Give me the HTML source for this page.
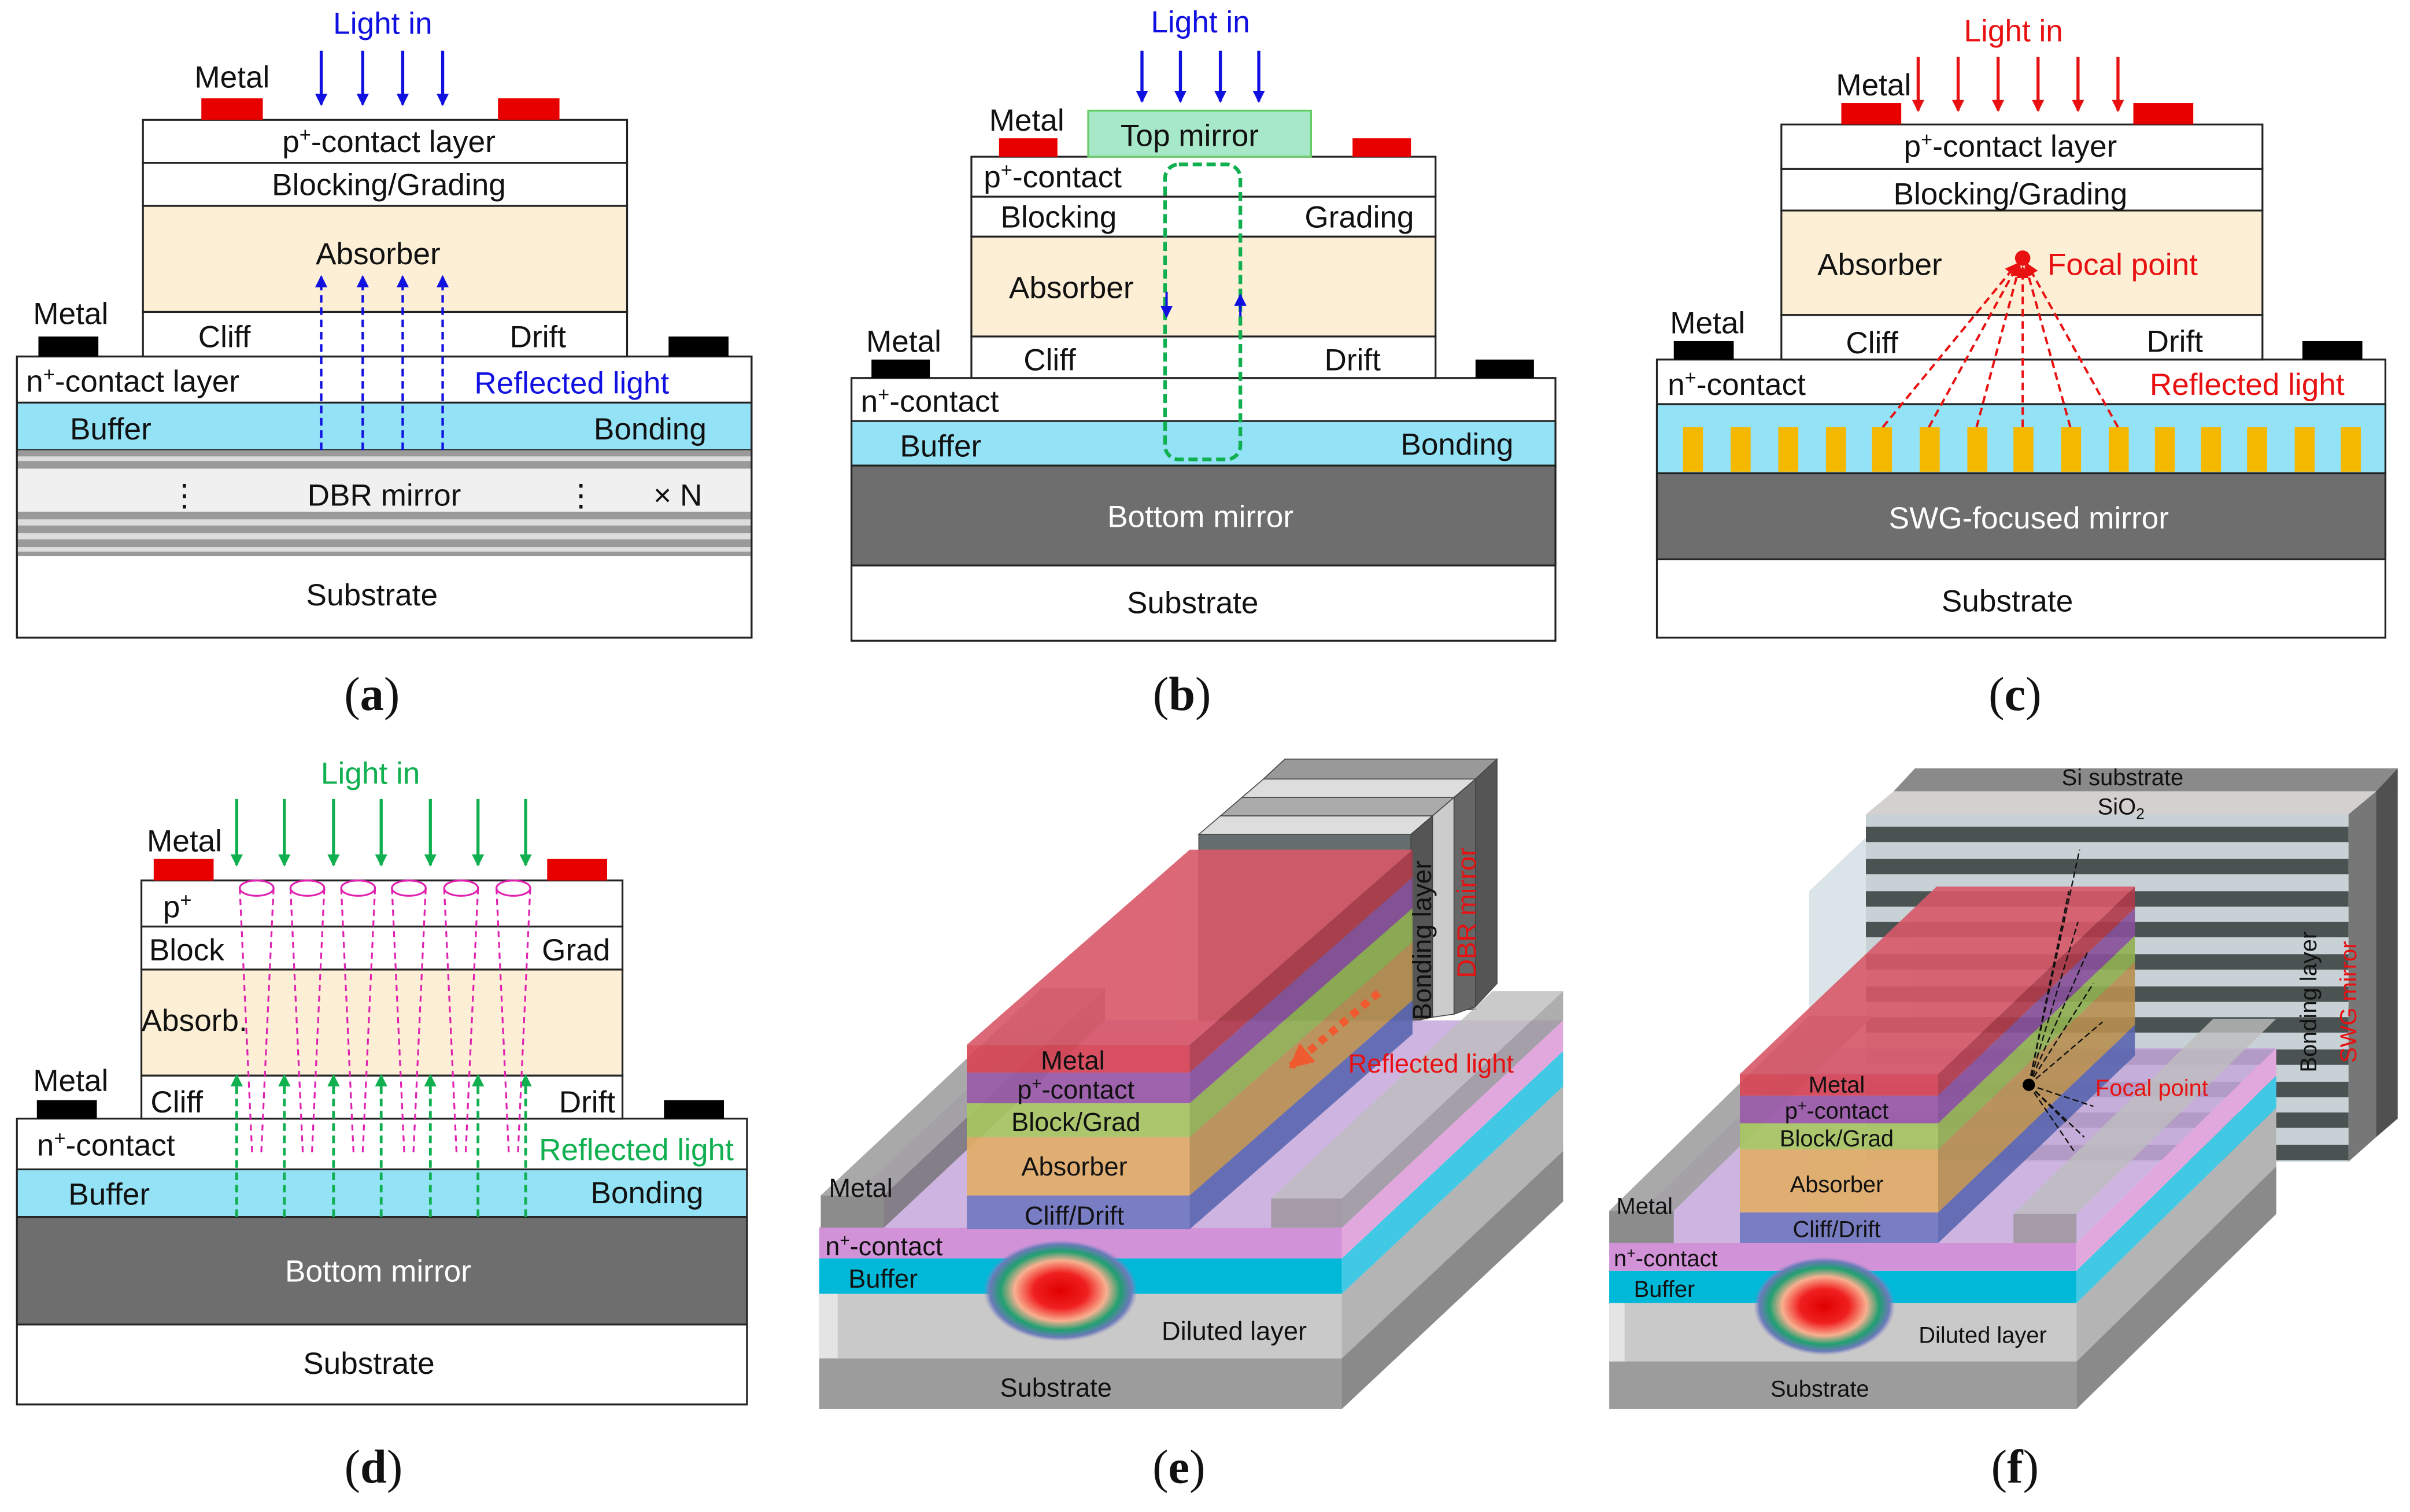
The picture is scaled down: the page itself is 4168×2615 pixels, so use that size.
<!DOCTYPE html>
<html><head><meta charset="utf-8"><style>
html,body{margin:0;padding:0;background:#fff;}
svg{display:block;}
text{font-family:"Liberation Sans",Arial,sans-serif;}
</style></head><body>
<svg width="4168" height="2615" viewBox="0 0 1568 984" preserveAspectRatio="none" xmlns="http://www.w3.org/2000/svg">
<defs>
<marker id="ab" markerWidth="8" markerHeight="8" refX="7" refY="4" orient="auto" markerUnits="userSpaceOnUse"><path d="M0,0 L8,4 L0,8 z" fill="#1010e0"/></marker>
<marker id="ar" markerWidth="8" markerHeight="8" refX="7" refY="4" orient="auto" markerUnits="userSpaceOnUse"><path d="M0,0 L8,4 L0,8 z" fill="#e81010"/></marker>
<marker id="ag" markerWidth="8" markerHeight="8" refX="7" refY="4" orient="auto" markerUnits="userSpaceOnUse"><path d="M0,0 L8,4 L0,8 z" fill="#10b050"/></marker>
<marker id="ao" markerWidth="16" markerHeight="16" refX="14" refY="8" orient="auto" markerUnits="userSpaceOnUse"><path d="M0,0 L16,8 L0,16 z" fill="#f05a30"/></marker>
<radialGradient id="mode"><stop offset="0" stop-color="#e00000"/><stop offset="0.35" stop-color="#f02020"/><stop offset="0.6" stop-color="#f8b090"/><stop offset="0.78" stop-color="#20a070"/><stop offset="0.92" stop-color="#6a7ab8"/><stop offset="1" stop-color="#8a8ac8" stop-opacity="0"/></radialGradient>
</defs>
<g stroke="#222" stroke-width="1.2">
<!-- (a) -->
<rect x="11" y="232" width="478" height="183" fill="#fff"/>
<rect x="11" y="262" width="478" height="31" fill="#94e2f6"/>
<rect x="11" y="293" width="478" height="12" fill="#9a9a9a" stroke="none"/>
<rect x="11" y="297" width="478" height="3" fill="#ddd" stroke="none"/>
<rect x="11" y="305" width="478" height="28" fill="#f0f0f0" stroke="none"/>
<rect x="11" y="333" width="478" height="29" fill="#9a9a9a" stroke="none"/>
<rect x="11" y="338" width="478" height="4" fill="#ddd" stroke="none"/>
<rect x="11" y="347" width="478" height="4" fill="#ddd" stroke="none"/>
<rect x="11" y="356" width="478" height="3" fill="#ddd" stroke="none"/>
<rect x="11" y="232" width="478" height="183" fill="none"/>
<rect x="93" y="78" width="315" height="28" fill="#fff"/>
<rect x="93" y="106" width="315" height="28" fill="#fff"/>
<rect x="93" y="134" width="315" height="69" fill="#fcefd6"/>
<rect x="93" y="203" width="315" height="29" fill="#fff"/>
<rect x="131" y="64" width="40" height="14" fill="#e80000" stroke="none"/>
<rect x="324" y="64" width="40" height="14" fill="#e80000" stroke="none"/>
<rect x="25" y="219" width="39" height="13" fill="#000" stroke="none"/>
<rect x="435" y="219" width="39" height="13" fill="#000" stroke="none"/>
<!-- (b) -->
<rect x="554" y="246" width="458" height="171" fill="#fff"/>
<rect x="554" y="274" width="458" height="29" fill="#94e2f6"/>
<rect x="554" y="303" width="458" height="65" fill="#6e6e6e"/>
<rect x="632" y="102" width="302" height="26" fill="#fff"/>
<rect x="632" y="128" width="302" height="26" fill="#fff"/>
<rect x="632" y="154" width="302" height="65" fill="#fcefd6"/>
<rect x="632" y="219" width="302" height="27" fill="#fff"/>
<rect x="708" y="72" width="145" height="30" fill="#a6e8c8" stroke="#6c6"/>
<rect x="650" y="90" width="38" height="12" fill="#e80000" stroke="none"/>
<rect x="880" y="90" width="38" height="12" fill="#e80000" stroke="none"/>
<rect x="567" y="234" width="38" height="12" fill="#000" stroke="none"/>
<rect x="960" y="234" width="38" height="12" fill="#000" stroke="none"/>
<!-- (c) -->
<rect x="1078" y="234" width="474" height="181" fill="#fff"/>
<rect x="1078" y="263" width="474" height="45" fill="#94e2f6"/>
<rect x="1078" y="308" width="474" height="56" fill="#6e6e6e"/>
<rect x="1159" y="81" width="313" height="29" fill="#fff"/>
<rect x="1159" y="110" width="313" height="27" fill="#fff"/>
<rect x="1159" y="137" width="313" height="68" fill="#fcefd6"/>
<rect x="1159" y="205" width="313" height="29" fill="#fff"/>
<rect x="1198" y="67" width="39" height="14" fill="#e80000" stroke="none"/>
<rect x="1388" y="67" width="39" height="14" fill="#e80000" stroke="none"/>
<rect x="1089" y="222" width="39" height="12" fill="#000" stroke="none"/>
<rect x="1498" y="222" width="39" height="12" fill="#000" stroke="none"/>
<!-- (d) -->
<rect x="11" y="728" width="475" height="186" fill="#fff"/>
<rect x="11" y="761" width="475" height="31" fill="#94e2f6"/>
<rect x="11" y="792" width="475" height="70" fill="#6e6e6e"/>
<rect x="92" y="573" width="313" height="30" fill="#fff"/>
<rect x="92" y="603" width="313" height="28" fill="#fff"/>
<rect x="92" y="631" width="313" height="69" fill="#fcefd6"/>
<rect x="92" y="700" width="313" height="28" fill="#fff"/>
<rect x="100" y="559" width="39" height="14" fill="#e80000" stroke="none"/>
<rect x="356" y="559" width="39" height="14" fill="#e80000" stroke="none"/>
<rect x="24" y="716" width="39" height="12" fill="#000" stroke="none"/>
<rect x="432" y="716" width="39" height="12" fill="#000" stroke="none"/>
</g>
<!-- SWG bars -->
<g fill="#f5b800">
<rect x="1095" y="278" width="13" height="29"/><rect x="1126" y="278" width="13" height="29"/><rect x="1157" y="278" width="13" height="29"/><rect x="1188" y="278" width="13" height="29"/><rect x="1218" y="278" width="13" height="29"/><rect x="1249" y="278" width="13" height="29"/><rect x="1280" y="278" width="13" height="29"/><rect x="1310" y="278" width="13" height="29"/><rect x="1341" y="278" width="13" height="29"/><rect x="1372" y="278" width="13" height="29"/><rect x="1402" y="278" width="13" height="29"/><rect x="1432" y="278" width="13" height="29"/><rect x="1462" y="278" width="13" height="29"/><rect x="1493" y="278" width="13" height="29"/><rect x="1523" y="278" width="13" height="29"/>
</g>
<!-- arrows a -->
<g stroke="#1010e0" stroke-width="2" marker-end="url(#ab)">
<line x1="209" y1="33" x2="209" y2="68"/><line x1="236" y1="33" x2="236" y2="68"/><line x1="262" y1="33" x2="262" y2="68"/><line x1="288" y1="33" x2="288" y2="68"/>
<line x1="743" y1="33" x2="743" y2="66"/><line x1="768" y1="33" x2="768" y2="66"/><line x1="794" y1="33" x2="794" y2="66"/><line x1="819" y1="33" x2="819" y2="66"/>
</g>
<g stroke="#1010e0" stroke-width="1.6" stroke-dasharray="5,3" marker-end="url(#ab)">
<line x1="209" y1="293" x2="209" y2="180"/><line x1="236" y1="293" x2="236" y2="180"/><line x1="262" y1="293" x2="262" y2="180"/><line x1="288" y1="293" x2="288" y2="180"/>
</g>
<rect x="758" y="107" width="49" height="192" rx="9" fill="none" stroke="#10b050" stroke-width="2.4" stroke-dasharray="6,3"/>
<g stroke="#1010e0" stroke-width="1.5"><line x1="759" y1="190" x2="759" y2="206" marker-end="url(#ab)"/><line x1="807" y1="206" x2="807" y2="192" marker-end="url(#ab)"/></g>
<!-- arrows c -->
<g stroke="#e81010" stroke-width="2" marker-end="url(#ar)">
<line x1="1248" y1="37" x2="1248" y2="72"/><line x1="1274" y1="37" x2="1274" y2="72"/><line x1="1300" y1="37" x2="1300" y2="72"/><line x1="1326" y1="37" x2="1326" y2="72"/><line x1="1352" y1="37" x2="1352" y2="72"/><line x1="1378" y1="37" x2="1378" y2="72"/>
</g>
<g stroke="#e81010" stroke-width="1.5" stroke-dasharray="5,3" marker-end="url(#ar)">
<line x1="1255" y1="278" x2="1313" y2="172"/><line x1="1286" y1="278" x2="1314" y2="173"/><line x1="1316" y1="278" x2="1316" y2="174"/><line x1="1347" y1="278" x2="1318" y2="173"/><line x1="1378" y1="278" x2="1319" y2="172"/>
<line x1="1225" y1="278" x2="1312" y2="172"/>
</g>
<circle cx="1316" cy="168" r="5" fill="#e81010"/>
<!-- arrows d -->
<g stroke="#10b050" stroke-width="2" marker-end="url(#ag)">
<line x1="154" y1="520" x2="154" y2="563"/><line x1="185" y1="520" x2="185" y2="563"/><line x1="217" y1="520" x2="217" y2="563"/><line x1="248" y1="520" x2="248" y2="563"/><line x1="280" y1="520" x2="280" y2="563"/><line x1="311" y1="520" x2="311" y2="563"/><line x1="342" y1="520" x2="342" y2="563"/>
</g>
<g stroke="#10b050" stroke-width="1.8" stroke-dasharray="5,3" marker-end="url(#ag)">
<line x1="154" y1="792" x2="154" y2="700"/><line x1="185" y1="792" x2="185" y2="700"/><line x1="217" y1="792" x2="217" y2="700"/><line x1="248" y1="792" x2="248" y2="700"/><line x1="280" y1="792" x2="280" y2="700"/><line x1="311" y1="792" x2="311" y2="700"/><line x1="342" y1="792" x2="342" y2="700"/>
</g>
<g stroke="#e020b0" stroke-width="1.2" fill="none">
<ellipse cx="167" cy="578" rx="11" ry="5"/><ellipse cx="200" cy="578" rx="11" ry="5"/><ellipse cx="233" cy="578" rx="11" ry="5"/><ellipse cx="266" cy="578" rx="11" ry="5"/><ellipse cx="300" cy="578" rx="11" ry="5"/><ellipse cx="334" cy="578" rx="11" ry="5"/>
<g stroke-dasharray="4,3">
<path d="M156,578 L164,750 M178,578 L170,750 M189,578 L197,750 M211,578 L203,750 M222,578 L230,750 M244,578 L236,750 M255,578 L263,750 M277,578 L269,750 M289,578 L297,750 M311,578 L303,750 M323,578 L331,750 M345,578 L337,750"/>
</g></g>
<!-- ===== (e) 3D ===== -->
<g>
<!-- DBR slabs -->
<g stroke="#444" stroke-width="0.6">
<polygon points="822,507 960,507 974,494 836,494" fill="#999"/><rect x="822" y="507" width="138" height="150" fill="#777"/><polygon points="960,507 974,494 974,640 960,655" fill="#555"/>
<polygon points="808,519 946,519 960,507 822,507" fill="#ddd"/><rect x="808" y="519" width="138" height="140" fill="#888"/><polygon points="946,519 960,507 960,655 946,660" fill="#666"/>
<polygon points="794,531 932,531 946,519 808,519" fill="#aaa"/><rect x="794" y="531" width="138" height="130" fill="#777"/><polygon points="932,531 946,519 946,660 932,662" fill="#ccc"/>
<polygon points="780,543 918,543 932,531 794,531" fill="#ddd"/><rect x="780" y="543" width="138" height="122" fill="#666e70"/><polygon points="918,543 932,531 932,662 918,665" fill="#555"/>
</g>
<!-- base -->
<polygon points="533,799 873,799 1017,664 677,664" fill="#c6a8dc" opacity="0.85"/>
<rect x="533" y="884" width="340" height="33" fill="#9c9c9c"/>
<polygon points="873,884 1017,749 1017,782 873,917" fill="#8a8a8a"/>
<rect x="533" y="842" width="340" height="42" fill="#c9c9c9"/>
<polygon points="873,842 1017,707 1017,749 873,884" fill="#b4b4b4"/>
<rect x="533" y="819" width="340" height="23" fill="#00b8d8"/>
<polygon points="873,819 1017,684 1017,707 873,842" fill="#40c8e4"/>
<rect x="533" y="799" width="340" height="20" fill="#d292d8"/>
<polygon points="873,799 1017,664 1017,684 873,819" fill="#e0a8dc"/>
<rect x="533" y="842" width="12" height="42" fill="#e4e4e4"/>
<ellipse cx="690" cy="840" rx="50" ry="33" fill="url(#mode)"/>
<!-- metal pads -->
<polygon points="534,778 575,778 719,643 678,643" fill="#a0a0a0" opacity="0.9"/>
<rect x="534" y="778" width="41" height="21" fill="#8c8c8c"/>
<polygon points="575,778 719,643 719,664 575,799" fill="#707070" opacity="0.8"/>
<polygon points="827,780 873,780 1017,645 971,645" fill="#bdbdbd" opacity="0.8"/>
<rect x="827" y="780" width="46" height="19" fill="#a59aa8"/>
<polygon points="873,780 1017,645 1017,664 873,799" fill="#9a9a9a" opacity="0.8"/>
<!-- mesa -->
<g opacity="0.9">
<polygon points="774,778 919,651 919,673 774,800" fill="#5a66b0"/>
<polygon points="774,740 919,613 919,651 774,778" fill="#b89050"/>
<polygon points="774,718 919,591 919,613 774,740" fill="#90b050"/>
<polygon points="774,698 919,571 919,591 774,718" fill="#86509a"/>
<polygon points="774,680 919,553 919,571 774,698" fill="#b03a4a"/>
<polygon points="629,680 774,680 919,553 774,553" fill="#d85868"/>
<rect x="629" y="778" width="145" height="22" fill="#7078c0"/>
<rect x="629" y="740" width="145" height="38" fill="#e2ae66"/>
<rect x="629" y="718" width="145" height="22" fill="#a8c860"/>
<rect x="629" y="698" width="145" height="20" fill="#9a5aa8"/>
<rect x="629" y="680" width="145" height="18" fill="#d84454"/>
</g>
<line x1="897" y1="646" x2="840" y2="694" stroke="#f05a30" stroke-width="5" stroke-dasharray="5,4" marker-end="url(#ao)"/>
</g>
<!-- ===== (f) 3D ===== -->
<g>
<polygon points="1177,580 1214,545 1214,860 1177,895" fill="#b8ccd4" opacity="0.5"/>
<polygon points="1232,515 1546,515 1560,500 1246,500" fill="#8a8a8a"/>
<polygon points="1214,530 1528,530 1546,515 1232,515" fill="#d4d0d0"/>
<rect x="1214" y="530" width="314" height="226" fill="#c8d2d6"/>
<g fill="#4a5252">
<rect x="1214" y="538" width="314" height="10"/><rect x="1214" y="559" width="314" height="10"/><rect x="1214" y="580" width="314" height="10"/><rect x="1214" y="600" width="314" height="10"/><rect x="1214" y="621" width="314" height="10"/><rect x="1214" y="642" width="314" height="10"/><rect x="1214" y="662" width="314" height="10"/><rect x="1214" y="683" width="314" height="10"/><rect x="1214" y="704" width="314" height="10"/><rect x="1214" y="724" width="314" height="10"/><rect x="1214" y="745" width="314" height="10"/>
</g>
<polygon points="1528,530 1546,515 1546,740 1528,756" fill="#777"/>
<polygon points="1546,515 1560,500 1560,728 1546,740" fill="#505050"/>
<!-- base -->
<polygon points="1047,809 1351,809 1481,682 1177,682" fill="#c6a8dc" opacity="0.85"/>
<rect x="1047" y="886" width="304" height="31" fill="#9c9c9c"/>
<polygon points="1351,886 1481,759 1481,790 1351,917" fill="#8a8a8a"/>
<rect x="1047" y="848" width="304" height="38" fill="#c9c9c9"/>
<polygon points="1351,848 1481,721 1481,759 1351,886" fill="#b4b4b4"/>
<rect x="1047" y="827" width="304" height="21" fill="#00b8d8"/>
<polygon points="1351,827 1481,700 1481,721 1351,848" fill="#40c8e4"/>
<rect x="1047" y="809" width="304" height="18" fill="#d292d8"/>
<polygon points="1351,809 1481,682 1481,700 1351,827" fill="#e0a8dc"/>
<rect x="1047" y="848" width="10" height="38" fill="#e4e4e4"/>
<ellipse cx="1187" cy="850" rx="46" ry="32" fill="url(#mode)"/>
<polygon points="1047,788 1089,788 1219,661 1177,661" fill="#a0a0a0" opacity="0.9"/>
<rect x="1047" y="788" width="42" height="21" fill="#8c8c8c"/>
<polygon points="1310,790 1351,790 1481,663 1440,663" fill="#bdbdbd" opacity="0.8"/>
<rect x="1310" y="790" width="41" height="19" fill="#a59aa8"/>
<g opacity="0.9">
<polygon points="1261,789 1389,667 1389,687 1261,809" fill="#5a66b0"/>
<polygon points="1261,748 1389,626 1389,667 1261,789" fill="#b89050"/>
<polygon points="1261,731 1389,609 1389,626 1261,748" fill="#90b050"/>
<polygon points="1261,713 1389,591 1389,609 1261,731" fill="#86509a"/>
<polygon points="1261,699 1389,577 1389,591 1261,713" fill="#b03a4a"/>
<polygon points="1132,699 1261,699 1389,577 1260,577" fill="#d85868"/>
<rect x="1132" y="789" width="129" height="20" fill="#7078c0"/>
<rect x="1132" y="748" width="129" height="41" fill="#e2ae66"/>
<rect x="1132" y="731" width="129" height="17" fill="#a8c860"/>
<rect x="1132" y="713" width="129" height="18" fill="#9a5aa8"/>
<rect x="1132" y="699" width="129" height="14" fill="#d84454"/>
</g>
<g stroke="#111" stroke-width="0.9" stroke-dasharray="4,2">
<line x1="1320" y1="706" x2="1353" y2="553"/><line x1="1320" y1="706" x2="1346" y2="580"/><line x1="1320" y1="706" x2="1352" y2="600"/><line x1="1320" y1="706" x2="1358" y2="620"/><line x1="1320" y1="706" x2="1362" y2="640"/><line x1="1320" y1="706" x2="1368" y2="665"/><line x1="1320" y1="706" x2="1356" y2="740"/><line x1="1320" y1="706" x2="1350" y2="750"/><line x1="1320" y1="706" x2="1344" y2="730"/><line x1="1320" y1="706" x2="1362" y2="720"/>
</g>
<circle cx="1320" cy="706" r="4" fill="#000"/>
</g>
<!-- TEXT -->
<g font-size="20" fill="#111">
<text x="249" y="22" text-anchor="middle" fill="#1010e0">Light in</text>
<text x="151" y="57" text-anchor="middle">Metal</text>
<text x="253" y="99" text-anchor="middle">p<tspan font-size="13" dy="-7">+</tspan><tspan dy="7">-contact layer</tspan></text>
<text x="253" y="127" text-anchor="middle">Blocking/Grading</text>
<text x="246" y="172" text-anchor="middle">Absorber</text>
<text x="46" y="211" text-anchor="middle">Metal</text>
<text x="146" y="226" text-anchor="middle">Cliff</text>
<text x="350" y="226" text-anchor="middle">Drift</text>
<text x="17" y="255">n<tspan font-size="13" dy="-7">+</tspan><tspan dy="7">-contact layer</tspan></text>
<text x="372" y="256" text-anchor="middle" fill="#1010e0">Reflected light</text>
<text x="72" y="286" text-anchor="middle">Buffer</text>
<text x="423" y="286" text-anchor="middle">Bonding</text>
<text x="120" y="329" text-anchor="middle">⋮</text>
<text x="250" y="329" text-anchor="middle">DBR mirror</text>
<text x="378" y="329" text-anchor="middle">⋮</text>
<text x="441" y="329" text-anchor="middle">× N</text>
<text x="242" y="394" text-anchor="middle">Substrate</text>

<text x="781" y="21" text-anchor="middle" fill="#1010e0">Light in</text>
<text x="668" y="85" text-anchor="middle">Metal</text>
<text x="774" y="95" text-anchor="middle">Top mirror</text>
<text x="640" y="122">p<tspan font-size="13" dy="-7">+</tspan><tspan dy="7">-contact</tspan></text>
<text x="651" y="148">Blocking</text>
<text x="920" y="148" text-anchor="end">Grading</text>
<text x="697" y="194" text-anchor="middle">Absorber</text>
<text x="588" y="229" text-anchor="middle">Metal</text>
<text x="683" y="241" text-anchor="middle">Cliff</text>
<text x="880" y="241" text-anchor="middle">Drift</text>
<text x="560" y="268">n<tspan font-size="13" dy="-7">+</tspan><tspan dy="7">-contact</tspan></text>
<text x="612" y="297" text-anchor="middle">Buffer</text>
<text x="948" y="296" text-anchor="middle">Bonding</text>
<text x="781" y="343" text-anchor="middle" fill="#fff">Bottom mirror</text>
<text x="776" y="399" text-anchor="middle">Substrate</text>

<text x="1310" y="27" text-anchor="middle" fill="#e81010">Light in</text>
<text x="1219" y="62" text-anchor="middle">Metal</text>
<text x="1308" y="102" text-anchor="middle">p<tspan font-size="13" dy="-7">+</tspan><tspan dy="7">-contact layer</tspan></text>
<text x="1308" y="133" text-anchor="middle">Blocking/Grading</text>
<text x="1223" y="179" text-anchor="middle">Absorber</text>
<text x="1381" y="179" text-anchor="middle" fill="#e81010">Focal point</text>
<text x="1111" y="217" text-anchor="middle">Metal</text>
<text x="1218" y="230" text-anchor="middle">Cliff</text>
<text x="1415" y="229" text-anchor="middle">Drift</text>
<text x="1085" y="257">n<tspan font-size="13" dy="-7">+</tspan><tspan dy="7">-contact</tspan></text>
<text x="1462" y="257" text-anchor="middle" fill="#e81010">Reflected light</text>
<text x="1320" y="344" text-anchor="middle" fill="#fff">SWG-focused mirror</text>
<text x="1306" y="398" text-anchor="middle">Substrate</text>

<text x="241" y="510" text-anchor="middle" fill="#10b050">Light in</text>
<text x="120" y="554" text-anchor="middle">Metal</text>
<text x="106" y="597">p<tspan font-size="13" dy="-7">+</tspan></text>
<text x="97" y="625">Block</text>
<text x="397" y="625" text-anchor="end">Grad</text>
<text x="92" y="671">Absorb.</text>
<text x="46" y="710" text-anchor="middle">Metal</text>
<text x="115" y="724" text-anchor="middle">Cliff</text>
<text x="382" y="724" text-anchor="middle">Drift</text>
<text x="24" y="752">n<tspan font-size="13" dy="-7">+</tspan><tspan dy="7">-contact</tspan></text>
<text x="414" y="755" text-anchor="middle" fill="#10b050">Reflected light</text>
<text x="71" y="784" text-anchor="middle">Buffer</text>
<text x="421" y="783" text-anchor="middle">Bonding</text>
<text x="246" y="834" text-anchor="middle" fill="#fff">Bottom mirror</text>
<text x="240" y="894" text-anchor="middle">Substrate</text>
</g>
<g font-size="17" fill="#111">
<text x="698" y="696" text-anchor="middle">Metal</text>
<text x="700" y="715" text-anchor="middle">p<tspan font-size="11" dy="-6">+</tspan><tspan dy="6">-contact</tspan></text>
<text x="700" y="736" text-anchor="middle">Block/Grad</text>
<text x="699" y="765" text-anchor="middle">Absorber</text>
<text x="699" y="797" text-anchor="middle">Cliff/Drift</text>
<text x="560" y="779" text-anchor="middle">Metal</text>
<text x="537" y="817">n<tspan font-size="11" dy="-6">+</tspan><tspan dy="6">-contact</tspan></text>
<text x="552" y="838">Buffer</text>
<text x="803" y="872" text-anchor="middle">Diluted layer</text>
<text x="687" y="909" text-anchor="middle">Substrate</text>
<text x="931" y="698" text-anchor="middle" fill="#e81010">Reflected light</text>
<text transform="translate(931,612) rotate(-90)" text-anchor="middle">Bonding layer</text>
<text transform="translate(960,594) rotate(-90)" text-anchor="middle" fill="#e81010">DBR mirror</text>
</g>
<g font-size="15" fill="#111">
<text x="1195" y="711" text-anchor="middle">Metal</text>
<text x="1195" y="728" text-anchor="middle">p<tspan font-size="10" dy="-5">+</tspan><tspan dy="5">-contact</tspan></text>
<text x="1195" y="746" text-anchor="middle">Block/Grad</text>
<text x="1195" y="776" text-anchor="middle">Absorber</text>
<text x="1195" y="805" text-anchor="middle">Cliff/Drift</text>
<text x="1070" y="790" text-anchor="middle">Metal</text>
<text x="1050" y="824">n<tspan font-size="10" dy="-5">+</tspan><tspan dy="5">-contact</tspan></text>
<text x="1063" y="844">Buffer</text>
<text x="1290" y="874" text-anchor="middle">Diluted layer</text>
<text x="1184" y="909" text-anchor="middle">Substrate</text>
<text x="1400" y="713" text-anchor="middle" fill="#e81010">Focal point</text>
<text x="1381" y="511" text-anchor="middle">Si substrate</text>
<text x="1380" y="530" text-anchor="middle">SiO<tspan font-size="10" dy="3">2</tspan></text>
<text transform="translate(1507,652) rotate(-90)" text-anchor="middle">Bonding layer</text>
<text transform="translate(1533,652) rotate(-90)" text-anchor="middle" fill="#e81010">SWG mirror</text>
</g>
<g font-family="Liberation Serif,serif" font-size="31" fill="#111" text-anchor="middle">
<text x="242" y="462" style="font-family:'Liberation Serif',serif">(<tspan font-weight="bold">a</tspan>)</text>
<text x="769" y="462" style="font-family:'Liberation Serif',serif">(<tspan font-weight="bold">b</tspan>)</text>
<text x="1311" y="462" style="font-family:'Liberation Serif',serif">(<tspan font-weight="bold">c</tspan>)</text>
<text x="243" y="965" style="font-family:'Liberation Serif',serif">(<tspan font-weight="bold">d</tspan>)</text>
<text x="767" y="965" style="font-family:'Liberation Serif',serif">(<tspan font-weight="bold">e</tspan>)</text>
<text x="1311" y="965" style="font-family:'Liberation Serif',serif">(<tspan font-weight="bold">f</tspan>)</text>
</g>
</svg>
</body></html>
